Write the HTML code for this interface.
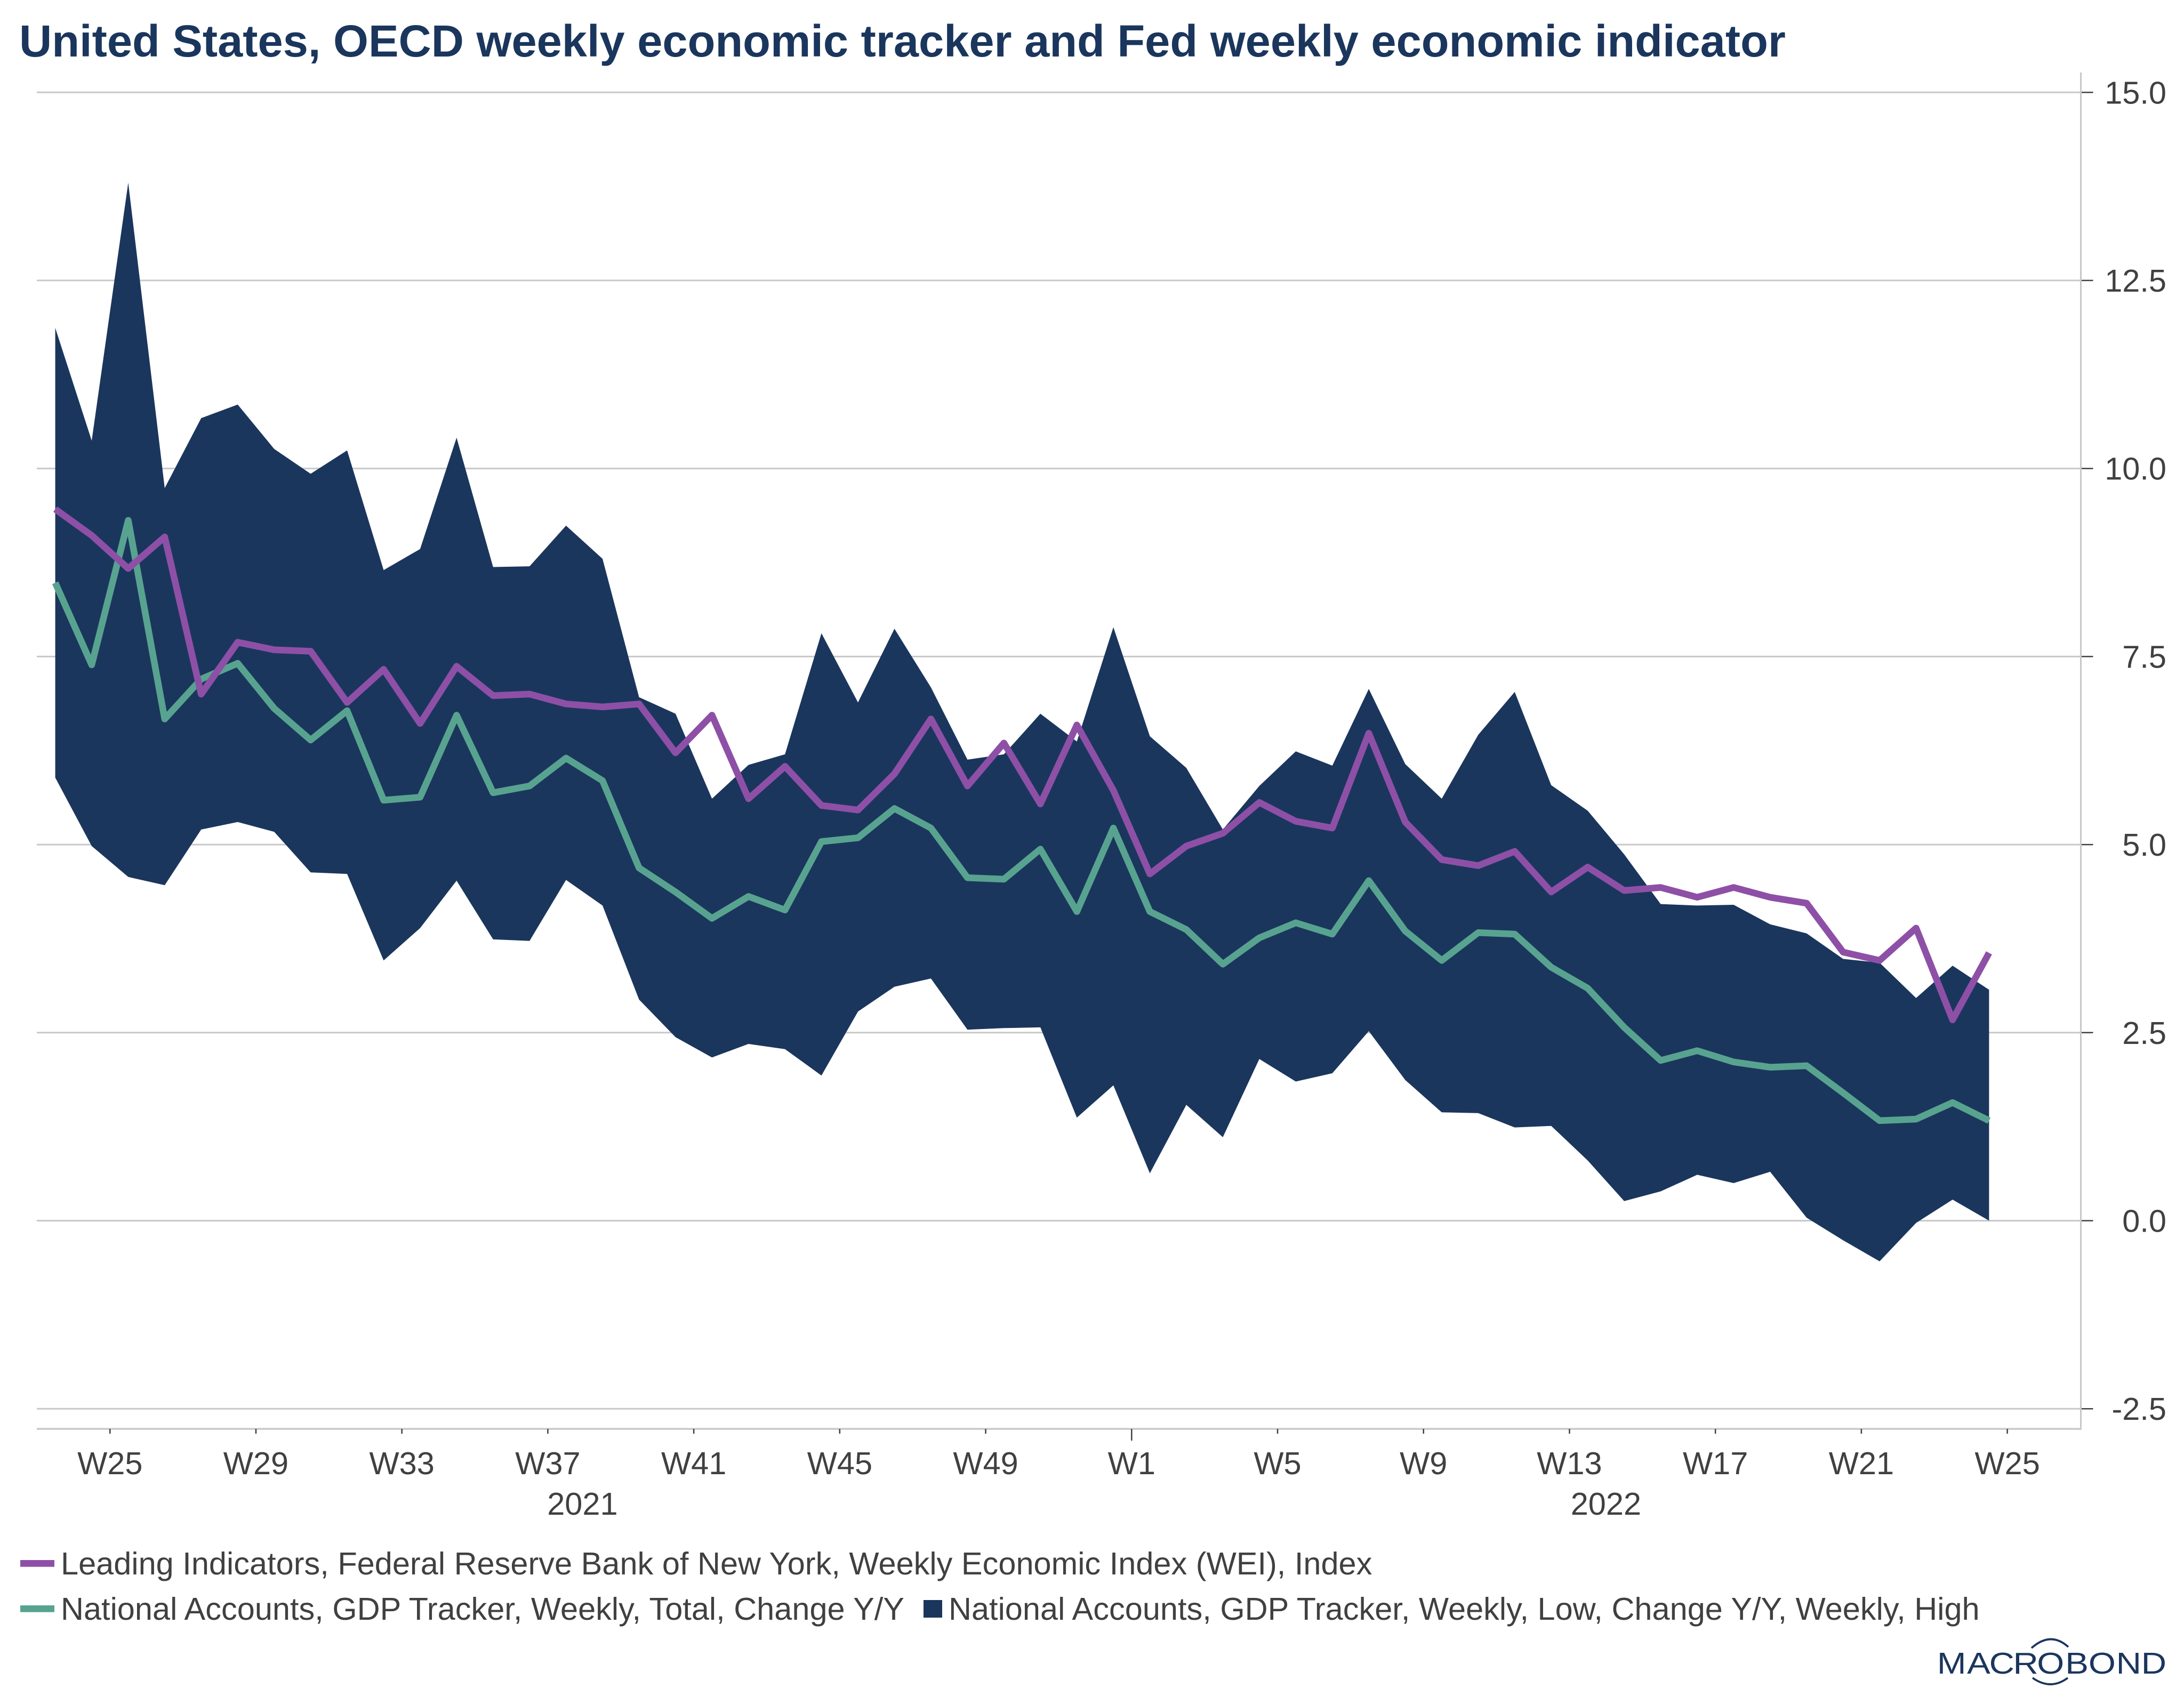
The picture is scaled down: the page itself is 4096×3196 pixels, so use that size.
<!DOCTYPE html>
<html lang="en">
<head>
<meta charset="utf-8">
<title>United States, OECD weekly economic tracker and Fed weekly economic indicator</title>
<style>
html,body{margin:0;padding:0;background:#fff;}
svg{display:block;font-family:"Liberation Sans",Arial,sans-serif;}
</style>
</head>
<body>
<svg id="chart" xmlns="http://www.w3.org/2000/svg" width="4096" height="3196" viewBox="0 0 4096 3196">
  <rect x="0" y="0" width="4096" height="3196" fill="#ffffff"/>
  <text x="36" y="106" font-size="84.8" font-weight="700" fill="#1b365d">United States, OECD weekly economic tracker and Fed weekly economic indicator</text>
  <g id="grid"></g>
  <g id="series"></g>
  <g id="axes"></g>

  <g font-size="59.5" fill="#404040">
    <g>
      <rect x="38" y="2926" width="64" height="12.7" fill="#8e50a6"/>
      <text x="114" y="2953">Leading Indicators, Federal Reserve Bank of New York, Weekly Economic Index (WEI), Index</text>
    </g>
    <g>
      <rect x="38" y="3011" width="64" height="12.7" fill="#58a390"/>
      <text x="114" y="3038">National Accounts, GDP Tracker, Weekly, Total, Change Y/Y</text>
    </g>
    <g>
      <rect x="1732" y="3001" width="35" height="33" fill="#1b365d"/>
      <text x="1779" y="3038">National Accounts, GDP Tracker, Weekly, Low, Change Y/Y, Weekly, High</text>
    </g>
  </g>

  <g>
    <text transform="translate(0,3139) scale(1.15,1)" x="3159 3208 3244 3283 3322 3368 3406 3451 3492" y="0" font-size="57" fill="#1b365d">MACROBOND</text>
    <path d="M3810 3091 Q3846 3059 3879 3089" fill="none" stroke="#1b365d" stroke-width="3.8"/>
    <path d="M3812 3147 Q3846 3171 3878 3147" fill="none" stroke="#1b365d" stroke-width="3.8"/>
  </g>
</svg>
<script>
const categories = ['W23','W24','W25','W26','W27','W28','W29','W30','W31','W32','W33','W34','W35','W36','W37','W38','W39','W40','W41','W42','W43','W44','W45','W46','W47','W48','W49','W50','W51','W52','W1','W2','W3','W4','W5','W6','W7','W8','W9','W10','W11','W12','W13','W14','W15','W16','W17','W18','W19','W20','W21','W22','W23','W24'];
const gdpHigh = [11.87,10.37,13.8,9.74,10.67,10.85,10.26,9.93,10.24,8.65,8.93,10.41,8.69,8.7,9.24,8.8,6.96,6.74,5.61,6.06,6.2,7.81,6.89,7.87,7.09,6.13,6.2,6.74,6.37,7.89,6.44,6.02,5.2,5.78,6.24,6.05,7.07,6.07,5.61,6.46,7.03,5.79,5.45,4.87,4.21,4.19,4.2,3.94,3.82,3.48,3.43,2.96,3.39,3.07];
const gdpLow = [5.89,4.98,4.57,4.46,5.2,5.3,5.17,4.63,4.61,3.46,3.89,4.52,3.74,3.72,4.53,4.19,2.94,2.44,2.17,2.35,2.28,1.93,2.78,3.11,3.22,2.54,2.56,2.57,1.37,1.8,0.63,1.54,1.11,2.15,1.85,1.96,2.52,1.87,1.44,1.43,1.24,1.26,0.8,0.26,0.39,0.61,0.5,0.65,0.04,-0.26,-0.54,-0.03,0.28,0];
const wei = [9.46,9.11,8.67,9.09,7.0,7.69,7.59,7.57,6.89,7.33,6.61,7.37,6.98,7.0,6.87,6.83,6.87,6.22,6.72,5.61,6.04,5.52,5.46,5.94,6.67,5.78,6.35,5.54,6.59,5.72,4.61,4.98,5.15,5.56,5.31,5.22,6.48,5.3,4.8,4.72,4.91,4.37,4.7,4.39,4.43,4.3,4.43,4.3,4.22,3.57,3.46,3.89,2.67,3.56];
const gdpTotal = [8.48,7.39,9.31,6.67,7.2,7.41,6.81,6.39,6.78,5.59,5.63,6.72,5.69,5.78,6.15,5.85,4.69,4.37,4.02,4.31,4.13,5.04,5.09,5.48,5.22,4.56,4.54,4.94,4.11,5.22,4.11,3.87,3.41,3.76,3.96,3.81,4.52,3.85,3.46,3.83,3.81,3.37,3.09,2.57,2.13,2.26,2.11,2.04,2.06,1.7,1.33,1.35,1.57,1.33];
const yTicks = [15,12.5,10,7.5,5,2.5,0,-2.5];
const xTickLabels = ['W25','W29','W33','W37','W41','W45','W49','W1','W5','W9','W13','W17','W21','W25'];
const yearLabels = ['2021','2022'];
const yearCenterWeeks = [14.45,42.5];

const NS = 'http://www.w3.org/2000/svg';
const plot = {left: 69, right: 3902.5, top: 136, bottom: 2680};
function yScale(v) { return 2289.5 - 141.08 * v; }
function xScale(i) { return 103.6 + 68.43 * i; }
function tickX(k) { return xScale(2 + 4 * k) - 34.2; }
function make(parent, tag, attrs) {
  const el = document.createElementNS(NS, tag);
  for (const a in attrs) el.setAttribute(a, attrs[a]);
  parent.appendChild(el);
  return el;
}
function pts(values) {
  return values.map(function (v, i) { return xScale(i).toFixed(1) + ',' + yScale(v).toFixed(1); });
}

const grid = document.getElementById('grid');
const axes = document.getElementById('axes');
const series = document.getElementById('series');

yTicks.forEach(function (t) {
  const y = yScale(t);
  const gl = make(grid, 'line', {x1: plot.left, x2: plot.right, y1: y, y2: y, stroke: '#c8c8c8', 'stroke-width': 3});
  
  
  const tk = make(axes, 'line', {x1: plot.right, x2: plot.right + 23, y1: y, y2: y, stroke: '#404040', 'stroke-width': 2.5});
  
  
  const lb = make(axes, 'text', {x: 4063, y: y + 21, 'text-anchor': 'end', 'font-size': 59.5, fill: '#404040'});
  
  
  lb.textContent = t.toFixed(1);
});

const area = make(series, 'polygon', {
  points: pts(gdpHigh).concat(pts(gdpLow).reverse()).join(' '),
  fill: '#1b365d'
});



const lineTotal = make(series, 'polyline', {
  points: pts(gdpTotal).join(' '), fill: 'none', stroke: '#58a390',
  'stroke-width': 12.5, 'stroke-linejoin': 'round', 'stroke-linecap': 'butt'
});



const lineWei = make(series, 'polyline', {
  points: pts(wei).join(' '), fill: 'none', stroke: '#8e50a6',
  'stroke-width': 12.5, 'stroke-linejoin': 'round', 'stroke-linecap': 'butt'
});



const yAxis = make(axes, 'line', {x1: plot.right, x2: plot.right, y1: plot.top, y2: plot.bottom, stroke: '#c8c8c8', 'stroke-width': 3});


const xAxis = make(axes, 'line', {x1: plot.left, x2: plot.right + 1.5, y1: plot.bottom, y2: plot.bottom, stroke: '#c8c8c8', 'stroke-width': 3.5});



xTickLabels.forEach(function (label, k) {
  const x = tickX(k);
  const isYearStart = label === 'W1';
  const tk = make(axes, 'line', {x1: x, x2: x, y1: plot.bottom, y2: plot.bottom + (isYearStart ? 22 : 9), stroke: '#404040', 'stroke-width': 2.5});
  
  
  const lb = make(axes, 'text', {x: x, y: 2765, 'text-anchor': 'middle', 'font-size': 59.5, fill: '#404040'});
  
  
  lb.textContent = label;
});

yearLabels.forEach(function (label, k) {
  const lb = make(axes, 'text', {x: xScale(yearCenterWeeks[k]), y: 2841, 'text-anchor': 'middle', 'font-size': 59.5, fill: '#404040'});
  
  
  lb.textContent = label;
});
</script>
</body>
</html>
